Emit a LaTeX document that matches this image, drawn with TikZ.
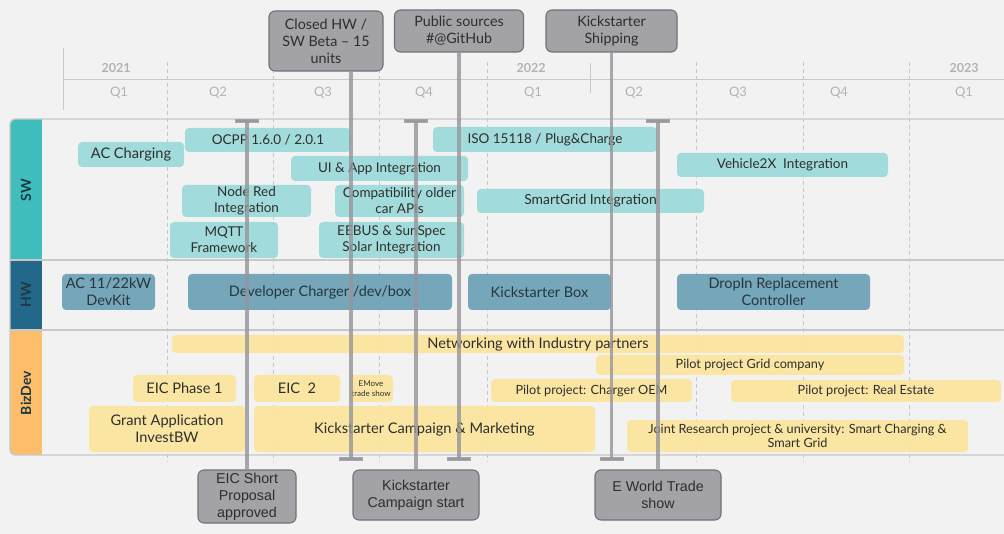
\documentclass[tikz,border=0pt]{standalone}
\usepackage{fontspec}
\setmainfont{Lato}
\newfontfamily\arialfont{Liberation Sans}
\usetikzlibrary{arrows.meta}
\usetikzlibrary{calc}

\definecolor{bgcol}{HTML}{F2F2F2}
\definecolor{gridcol}{HTML}{C8C8C8}
\definecolor{headtxt}{HTML}{B3B3B3}
\definecolor{swcol}{HTML}{40BEBE}
\definecolor{hwcol}{HTML}{23688A}
\definecolor{bizcol}{HTML}{FDBE6C}
\definecolor{swlight}{HTML}{9CDADA}
\definecolor{hwlight}{HTML}{6BA0B5}
\definecolor{bizlight}{HTML}{FBE59C}
\definecolor{mscol}{HTML}{A2A2A7}
\definecolor{msedge}{HTML}{727276}
\definecolor{bartxt}{HTML}{2E2E2E}
\definecolor{hwtxt}{HTML}{27363F}
\definecolor{cattxt}{HTML}{1E3A40}

\tikzset{
  bar/.style={rounded corners=4pt, inner sep=1pt, align=center, text=bartxt,
    fill opacity=0.92, text opacity=1, font=\fontsize{13.5}{16}\selectfont},
  swbar/.style={bar, fill=swlight},
  hwbar/.style={bar, fill=hwlight, text=hwtxt, font=\fontsize{14.5}{17}\selectfont},
  bizbar/.style={bar, fill=bizlight, font=\fontsize{14.6}{17}\selectfont},
  smalltxt/.style={font=\fontsize{12.7}{14}\selectfont},
  milestone/.style={draw=msedge, line width=1.1pt, fill=mscol, rounded corners=6pt,
    align=center, text=bartxt, inner sep=1pt, font=\fontsize{14.3}{17}\selectfont},
  lowstone/.style={milestone, font=\arialfont\fontsize{14.3}{17}\selectfont},
  msline/.style={draw=mscol!92!black, line width=3.5pt, opacity=0.8,
    -{Rectangle[length=4pt,width=24pt]}},
  qlabel/.style={text=headtxt, font=\fontsize{13}{15}\selectfont},
  ylabel/.style={text=headtxt, font=\bfseries\fontsize{12.5}{15}\selectfont},
  catlabel/.style={rotate=90, text=cattxt, font=\bfseries\fontsize{14}{16}\selectfont},
  qline/.style={gridcol, line width=0.8pt, dash pattern=on 4pt off 3pt},
}

\begin{document}
\begin{tikzpicture}[x=1pt, y=-1pt]

\useasboundingbox (0,0) rectangle (1004,534);
\fill[bgcol] (0,0) rectangle (1004,534);

%time axis
\draw[gridcol, line width=0.9pt] (63,79) -- (1004,79);
\draw[gridcol, line width=0.9pt] (63,48) -- (63,110);
\draw[gridcol, line width=0.9pt] (590,63) -- (590,93);
\foreach \x in {167,273,379,487,696,803,909}
  \draw[qline] (\x,62) -- (\x,462);

\node[ylabel] (y2021) at (116,68) {2021};
\node[ylabel] (y2022) at (531,68) {2022};
\node[ylabel] (y2023) at (964,68) {2023};
\foreach \x/\q [count=\i] in {119/Q1,218/Q2,323/Q3,424/Q4,533/Q1,634/Q2,738/Q3,839/Q4,964/Q1}
  \node[qlabel] (q\i) at (\x,93) {\q};

%rows
\begin{scope}
\clip[rounded corners=5pt] (10,119) rectangle (80,455);
\fill[swcol] (10,119) rectangle (42,260);
\fill[hwcol] (10,260) rectangle (42,330);
\fill[bizcol] (10,330) rectangle (42,455);
\end{scope}
\draw[gridcol, line width=1.4pt, rounded corners=5pt] (1012,119) -- (10,119) -- (10,455) -- (1012,455);
\draw[gridcol, line width=1.4pt] (10,260) -- (1004,260);
\draw[gridcol, line width=1.4pt] (10,330) -- (1004,330);

\node[catlabel] (sw) at (26,190) {SW};
\node[catlabel] (hw) at (26,295) {HW};
\node[catlabel] (biz) at (26,393) {BizDev};

%SW
\node[swbar, minimum width=106, minimum height=25, font=\fontsize{14.6}{16}\selectfont] (acch) at (131,154.5) {AC Charging};
\node[swbar, minimum width=166, minimum height=24] (ocpp) at (268,140) {OCPP 1.6.0 / 2.0.1};
\node[swbar, minimum width=224, minimum height=25] (iso) at (545,139.5) {ISO 15118 / Plug\&Charge};
\node[swbar, minimum width=177, minimum height=25] (uiapp) at (379.5,168.5) {UI \& App Integration};
\node[swbar, minimum width=211, minimum height=24] (vtox) at (782.5,165) {Vehicle2X\ \ Integration};
\node[swbar, minimum width=129, minimum height=32] (nodered) at (246.5,201) {Node Red\\Integration};
\node[swbar, minimum width=129, minimum height=32] (compat) at (399.5,201) {Compatibility older\\car APIs};
\node[swbar, minimum width=227, minimum height=24, font=\fontsize{13.9}{16}\selectfont] (smartgrid) at (590.5,201) {SmartGrid Integration};
\node[swbar, minimum width=108, minimum height=36] (mqtt) at (224,240) {MQTT\\Framework};
\node[swbar, minimum width=145, minimum height=36] (eebus) at (391.5,240) {EEBUS \& SunSpec\\Solar Integration};

%HW
\node[hwbar, minimum width=93, minimum height=36] (devkit) at (108.5,292) {AC 11/22kW\\DevKit};
\node[hwbar, minimum width=264, minimum height=36] (devbox) at (320,292) {Developer Charger /dev/box};
\node[hwbar, minimum width=143, minimum height=36] (ksbox) at (539.5,292) {Kickstarter Box};
\node[hwbar, minimum width=193, minimum height=36] (dropin) at (773.5,292) {DropIn Replacement\\Controller};

%BizDev
\node[bizbar, minimum width=732, minimum height=18] (network) at (538,344) {Networking with Industry partners};
\node[bizbar, smalltxt, minimum width=308, minimum height=20] (gridco) at (750,365) {Pilot project Grid company};
\node[bizbar, minimum width=103, minimum height=27] (eicone) at (184.5,388.5) {EIC Phase 1};
\node[bizbar, minimum width=86, minimum height=27] (eictwo) at (297,388.5) {EIC\ \ 2};
\node[bizbar, minimum width=44, minimum height=27, font=\fontsize{8}{10}\selectfont] (emove) at (371,388.5) {EMove\\trade show};
\node[bizbar, smalltxt, minimum width=201, minimum height=23] (oem) at (591.5,390.5) {Pilot project: Charger OEM};
\node[bizbar, smalltxt, minimum width=270, minimum height=22] (estate) at (866,391) {Pilot project: Real Estate};
\node[bizbar, minimum width=156, minimum height=46] (grant) at (167,429) {Grant Application\\InvestBW};
\node[bizbar, minimum width=341, minimum height=46] (campaign) at (424.5,429) {Kickstarter Campaign \& Marketing};
\node[bizbar, smalltxt, minimum width=341, minimum height=32] (joint) at (797.5,436) {Joint Research project \& university: Smart Charging \&\\Smart Grid};

%milestones
\node[milestone, minimum width=114, minimum height=60] (beta) at (326,41) {Closed HW /\\SW Beta – 15\\units};
\node[milestone, minimum width=129, minimum height=42] (github) at (459,31) {Public sources\\\#@GitHub};
\node[milestone, minimum width=131, minimum height=42] (shipping) at (611.5,31) {Kickstarter\\Shipping};
\node[lowstone, minimum width=98, minimum height=53] (eicshort) at (247,496.5) {EIC Short\\Proposal\\approved};
\node[lowstone, minimum width=126, minimum height=50] (ksstart) at (416,495) {Kickstarter\\Campaign start};
\node[lowstone, minimum width=126, minimum height=50] (eworld) at (658,495) {E World Trade\\show};

\coordinate (betaend) at (351,461);
\coordinate (githubend) at (459,461);
\coordinate (shippingend) at (611.5,461);
\coordinate (eicshortend) at (247,119);
\coordinate (ksstartend) at (416,119);
\coordinate (eworldend) at (658,119);

\draw[msline] (betaend |- beta.south) -- (betaend);
\draw[msline] (github.south) -- (githubend);
\draw[msline] (shipping.south) -- (shippingend);
\draw[msline] (eicshort.north) -- (eicshortend);
\draw[msline] (ksstart.north) -- (ksstartend);
\draw[msline] (eworld.north) -- (eworldend);

\end{tikzpicture}
\end{document}
